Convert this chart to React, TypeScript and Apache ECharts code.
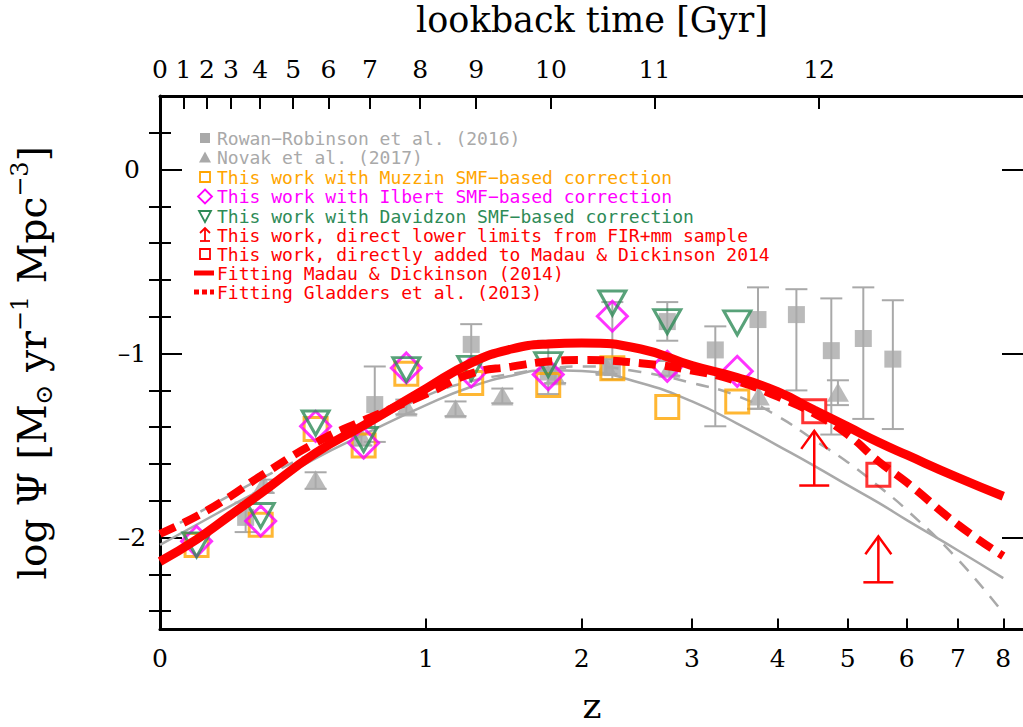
import React, { useEffect, useRef } from "react";
import * as echarts from "echarts";

// ---- axes ----
const zTicks = [0, 1, 2, 3, 4, 5, 6, 7, 8];
const zMax = 8.5;
const lookbackGyr = [0, 1, 2, 3, 4, 5, 6, 7, 8, 9, 10, 11, 12];
const lookbackZ = [0, 0.063, 0.13, 0.203, 0.298, 0.415, 0.551, 0.728, 0.97, 1.279, 1.77, 2.627, 4.569];
const yMajor = [-2, -1, 0];
const yMinor = [-2.4, -2.2, -1.8, -1.6, -1.4, -1.2, -0.8, -0.6, -0.4, -0.2, 0.2];

// ---- fitted / literature curves (log SFRD vs z) ----
const curveZ = [0, 0.1, 0.2, 0.3, 0.5, 0.7, 1.0, 1.25, 1.5, 1.75, 2.0, 2.5, 3.0, 3.5, 4.0, 4.5, 5.0, 5.5, 6.0, 7.0, 8.0];
const madauFit = [-2.13, -2.01, -1.88, -1.76, -1.54, -1.39, -1.19, -1.05, -0.975, -0.948, -0.943, -0.975, -1.065, -1.13, -1.207, -1.307, -1.397, -1.481, -1.551, -1.674, -1.775];
const gladdersFit = [-1.98, -1.884, -1.777, -1.665, -1.485, -1.363, -1.22, -1.109, -1.071, -1.043, -1.035, -1.052, -1.092, -1.15, -1.234, -1.326, -1.44, -1.585, -1.7, -1.93, -2.1];
const md14Gray = [-2.04, -1.93, -1.83, -1.74, -1.57, -1.44, -1.28, -1.18, -1.12, -1.09, -1.095, -1.16, -1.26, -1.38, -1.5, -1.61, -1.715, -1.81, -1.905, -2.07, -2.22];
const dashedGray = [-1.98, -1.87, -1.77, -1.68, -1.53, -1.4, -1.23, -1.15, -1.11, -1.08, -1.07, -1.1, -1.16, -1.23, -1.34, -1.47, -1.59, -1.72, -1.85, -2.12, -2.41];

// ---- Rowan-Robinson et al. (2016) ----
const rrZ = [0.25, 0.75, 1.25, 1.75, 2.25, 2.75, 3.25, 3.75, 4.25, 4.75, 5.25, 5.75];
const rrVal = [-1.89, -1.277, -0.95, -1.1, -1.076, -0.826, -0.98, -0.815, -0.788, -0.984, -0.918, -1.03];
const rrLo = [-1.97, -1.48, -1.06, -1.22, -1.14, -0.93, -1.395, -1.3, -1.2, -1.44, -1.355, -1.41];
const rrHi = [-1.81, -1.07, -0.84, -0.93, -0.72, -0.72, -0.852, -0.64, -0.65, -0.7, -0.64, -0.71];

// ---- Novak et al. (2017) ----
const nvZ = [0.31, 0.5, 0.69, 0.9, 1.16, 1.44, 1.8, 2.2, 2.77, 3.76, 4.85];
const nvVal = [-1.71, -1.685, -1.45, -1.29, -1.3, -1.23, -1.12, -1.07, -1.08, -1.23, -1.21];
const nvLo = [-1.757, -1.735, -1.5, -1.33, -1.34, -1.27, -1.16, -1.11, -1.12, -1.3, -1.28];
const nvHi = [-1.685, -1.645, -1.4, -1.25, -1.26, -1.19, -1.08, -1.03, -1.04, -1.17, -1.145];

// ---- this work ----
const twZ = [0.1, 0.3, 0.5, 0.7, 0.9, 1.25, 1.75, 2.25, 2.75, 3.5];
const muzzin = [-2.04, -1.93, -1.41, -1.5, -1.11, -1.16, -1.17, -1.08, -1.29, -1.26];
const ilbert = [-2.02, -1.91, -1.395, -1.486, -1.078, -1.1, -1.114, -0.797, -1.069, -1.096];
const davidzon = [-2.04, -1.88, -1.377, -1.467, -1.087, -1.08, -1.06, -0.725, -0.826, -0.833];

// direct lower limits from FIR+mm, and values added to Madau & Dickinson 2014
const limZ = [4.5, 5.5];
const limVal = [-1.717, -2.243];
const limTip = [-1.42, -1.993];
const addedZ = [4.5, 5.5];
const addedVal = [-1.313, -1.658];

const legendItems = [
  "Rowan\u2212Robinson et al. (2016)",
  "Novak et al. (2017)",
  "This work with Muzzin SMF\u2212based correction",
  "This work with Ilbert SMF\u2212based correction",
  "This work with Davidzon SMF\u2212based correction",
  "This work, direct lower limits from FIR+mm sample",
  "This work, directly added to Madau & Dickinson 2014",
  "Fitting Madau & Dickinson (2014)",
  "Fitting Gladders et al. (2013)",
];

const GRAY = "#a9a9a9";
const ORANGE = "#ffa500";
const MAGENTA = "#ff00ff";
const GREEN = "#2e8b57";
const RED = "#ff0000";
const SERIF = "DejaVu Serif";
const MONO = "DejaVu Sans Mono";

const toX = (z: number) => Math.log10(1 + z);

function errorBars(color: string, capHalf: number, width: number) {
  return (params: any, api: any) => {
    const x = api.value(0);
    const a = api.coord([x, api.value(1)]);
    const b = api.coord([x, api.value(2)]);
    const style = { stroke: color, lineWidth: width };
    return {
      type: "group",
      children: [
        { type: "line", shape: { x1: a[0], y1: a[1], x2: b[0], y2: b[1] }, style },
        { type: "line", shape: { x1: a[0] - capHalf, y1: a[1], x2: a[0] + capHalf, y2: a[1] }, style },
        { type: "line", shape: { x1: b[0] - capHalf, y1: b[1], x2: b[0] + capHalf, y2: b[1] }, style },
      ],
    };
  };
}

function lowerLimit(params: any, api: any) {
  const x = api.value(0);
  const a = api.coord([x, api.value(1)]);
  const b = api.coord([x, api.value(2)]);
  const style = { stroke: RED, lineWidth: 2.5, fill: "none" };
  return {
    type: "group",
    children: [
      { type: "line", shape: { x1: a[0], y1: a[1], x2: b[0], y2: b[1] }, style },
      { type: "line", shape: { x1: a[0] - 15, y1: a[1], x2: a[0] + 15, y2: a[1] }, style },
      {
        type: "polyline",
        shape: { points: [[b[0] - 13, b[1] + 18], [b[0], b[1]], [b[0] + 13, b[1] + 18]] },
        style,
      },
    ],
  };
}

function legendGraphics() {
  const rowY = [138, 157.5, 177, 196.5, 216, 235, 254, 273, 292];
  const colors = [GRAY, GRAY, ORANGE, MAGENTA, GREEN, RED, RED, RED, RED];
  const cx = 205;
  const els: any[] = [];
  legendItems.forEach((t, i) => {
    els.push({
      type: "text",
      x: 217,
      y: rowY[i],
      style: { text: t, fill: colors[i], font: `18px "${MONO}"`, verticalAlign: "middle" },
    });
  });
  const y = rowY;
  els.push({ type: "rect", shape: { x: cx - 5, y: y[0] - 5, width: 10, height: 10 }, style: { fill: GRAY } });
  els.push({ type: "polygon", shape: { points: [[cx - 6, y[1] + 5], [cx + 6, y[1] + 5], [cx, y[1] - 6]] }, style: { fill: GRAY } });
  els.push({ type: "rect", shape: { x: cx - 5, y: y[2] - 5, width: 10, height: 10 }, style: { fill: "none", stroke: ORANGE, lineWidth: 1.8 } });
  els.push({ type: "polygon", shape: { points: [[cx, y[3] - 7], [cx + 7, y[3]], [cx, y[3] + 7], [cx - 7, y[3]]] }, style: { fill: "none", stroke: MAGENTA, lineWidth: 1.8 } });
  els.push({ type: "polygon", shape: { points: [[cx - 6, y[4] - 5], [cx + 6, y[4] - 5], [cx, y[4] + 6]] }, style: { fill: "none", stroke: GREEN, lineWidth: 1.8 } });
  els.push({ type: "line", shape: { x1: cx, y1: y[5] + 6, x2: cx, y2: y[5] - 6 }, style: { stroke: RED, lineWidth: 1.8 } });
  els.push({ type: "line", shape: { x1: cx - 5, y1: y[5] + 6, x2: cx + 5, y2: y[5] + 6 }, style: { stroke: RED, lineWidth: 1.8 } });
  els.push({ type: "polyline", shape: { points: [[cx - 5, y[5] - 2], [cx, y[5] - 7], [cx + 5, y[5] - 2]] }, style: { stroke: RED, lineWidth: 1.8, fill: "none" } });
  els.push({ type: "rect", shape: { x: cx - 5, y: y[6] - 5, width: 10, height: 10 }, style: { fill: "none", stroke: RED, lineWidth: 1.8 } });
  els.push({ type: "line", shape: { x1: 194, y1: y[7], x2: 214, y2: y[7] }, style: { stroke: RED, lineWidth: 5 } });
  els.push({ type: "line", shape: { x1: 194, y1: y[8], x2: 214, y2: y[8] }, style: { stroke: RED, lineWidth: 5, lineDash: [5, 3] } });
  return els;
}

function buildOption(): any {
  const xMax = toX(zMax);
  const zTickX = zTicks.map(toX);
  const lbX = lookbackZ.map(toX);
  const tickStyle = { color: "#000", width: 2 };
  const axisLineStyle = { color: "#000", width: 3 };
  const labelFont = { fontFamily: SERIF, fontSize: 25, color: "#000" };

  const xBase = { type: "value", min: 0, max: xMax, splitLine: { show: false } };
  const yBase = { type: "value", min: -2.5, max: 0.4, splitLine: { show: false } };

  const lineData = (vals: number[]) => curveZ.map((z, i) => [toX(z), vals[i]]);
  const pts = (zs: number[], vals: number[]) => zs.map((z, i) => [toX(z), vals[i]]);

  return {
    animation: false,
    backgroundColor: "#fff",
    grid: { left: 160, top: 96, width: 864, height: 533.6, containLabel: false, outerBoundsMode: "none" },
    xAxis: [
      {
        ...xBase,
        position: "bottom",
        axisLine: { show: true, onZero: false, lineStyle: axisLineStyle },
        axisTick: { show: true, inside: true, length: 11, lineStyle: tickStyle, customValues: zTickX },
        axisLabel: {
          ...labelFont,
          margin: 16,
          customValues: zTickX,
          formatter: (v: number) => String(Math.round(Math.pow(10, v) - 1)),
        },
        name: "z",
        nameLocation: "middle",
        nameGap: 58,
        nameTextStyle: { fontFamily: SERIF, fontSize: 36, color: "#000" },
      },
      {
        ...xBase,
        position: "top",
        axisLine: { show: true, onZero: false, lineStyle: axisLineStyle },
        axisTick: { show: true, inside: true, length: 13, lineStyle: tickStyle, customValues: lbX },
        axisLabel: {
          ...labelFont,
          margin: 14,
          customValues: lbX,
          formatter: (v: number) => {
            let best = 0;
            lbX.forEach((x, i) => {
              if (Math.abs(x - v) < Math.abs(lbX[best] - v)) best = i;
            });
            return String(lookbackGyr[best]);
          },
        },
        name: "lookback time [Gyr]",
        nameLocation: "middle",
        nameGap: 57,
        nameTextStyle: { fontFamily: SERIF, fontSize: 35, color: "#000", lineHeight: 38 },
      },
    ],
    yAxis: [
      {
        ...yBase,
        position: "left",
        axisLine: { show: true, onZero: false, lineStyle: axisLineStyle },
        axisTick: { show: true, inside: true, length: 22, lineStyle: tickStyle, customValues: yMajor },
        axisLabel: {
          ...labelFont,
          margin: 28,
          align: "center",
          customValues: yMajor,
          formatter: (v: number) => (v < 0 ? "\u2013" + Math.abs(v) : String(v)),
        },
        name: "{t|log \u03A8 [M}{s|\u2299}{t| yr}{p|\u22121}{t| Mpc}{p|\u22123}{t|]}",
        nameLocation: "middle",
        nameRotate: 90,
        nameGap: 104,
        nameTextStyle: {
          rich: {
            t: { fontFamily: SERIF, fontSize: 39, color: "#000", lineHeight: 48 },
            s: { fontFamily: SERIF, fontSize: 24, color: "#000", verticalAlign: "bottom", lineHeight: 48 },
            p: { fontFamily: SERIF, fontSize: 24, color: "#000", verticalAlign: "top", lineHeight: 48 },
          },
        },
      },
      {
        ...yBase,
        position: "left",
        axisLine: { show: false },
        axisTick: { show: true, inside: true, length: 11, lineStyle: tickStyle, customValues: yMinor },
        axisLabel: { show: false },
      },
      {
        ...yBase,
        position: "right",
        axisLine: { show: true, onZero: false, lineStyle: axisLineStyle },
        axisTick: { show: true, inside: true, length: 22, lineStyle: tickStyle, customValues: yMajor },
        axisLabel: { show: false },
      },
      {
        ...yBase,
        position: "right",
        axisLine: { show: false },
        axisTick: { show: true, inside: true, length: 11, lineStyle: tickStyle, customValues: yMinor },
        axisLabel: { show: false },
      },
    ],
    graphic: legendGraphics(),
    series: [
      {
        type: "custom",
        name: "Rowan-Robinson errors",
        renderItem: errorBars(GRAY, 11, 2),
        encode: { x: 0, y: [1, 2] },
        data: rrZ.map((z, i) => [toX(z), rrLo[i], rrHi[i]]),
        z: 1,
      },
      {
        type: "custom",
        name: "Novak errors",
        renderItem: errorBars(GRAY, 11, 2),
        encode: { x: 0, y: [1, 2] },
        data: nvZ.map((z, i) => [toX(z), nvLo[i], nvHi[i]]),
        z: 1,
      },
      {
        type: "scatter",
        name: "Rowan-Robinson et al. (2016)",
        symbol: "rect",
        symbolSize: 17,
        itemStyle: { color: GRAY },
        data: pts(rrZ, rrVal),
        z: 2,
      },
      {
        type: "scatter",
        name: "Novak et al. (2017)",
        symbol: "triangle",
        symbolSize: [22, 19],
        itemStyle: { color: GRAY },
        data: pts(nvZ, nvVal),
        z: 2,
      },
      {
        type: "line",
        name: "MD14",
        data: lineData(md14Gray),
        smooth: true,
        showSymbol: false,
        lineStyle: { color: GRAY, width: 2.5 },
        z: 3,
      },
      {
        type: "line",
        name: "dashed reference",
        data: lineData(dashedGray),
        smooth: true,
        showSymbol: false,
        lineStyle: { color: GRAY, width: 2.5, type: [13, 10] },
        z: 3,
      },
      {
        type: "scatter",
        name: "Muzzin",
        symbol: "rect",
        symbolSize: 23,
        itemStyle: { color: "rgba(0,0,0,0)", borderColor: ORANGE, borderWidth: 3 },
        data: pts(twZ, muzzin),
        z: 4,
      },
      {
        type: "scatter",
        name: "Ilbert",
        symbol: "diamond",
        symbolSize: 30,
        itemStyle: { color: "rgba(0,0,0,0)", borderColor: MAGENTA, borderWidth: 3 },
        data: pts(twZ, ilbert),
        z: 5,
      },
      {
        type: "scatter",
        name: "Davidzon",
        symbol: "triangle",
        symbolRotate: 180,
        symbolSize: [27, 24],
        itemStyle: { color: "rgba(0,0,0,0)", borderColor: GREEN, borderWidth: 3 },
        data: pts(twZ, davidzon),
        z: 6,
      },
      {
        type: "line",
        name: "Fitting Madau & Dickinson (2014)",
        data: lineData(madauFit),
        smooth: true,
        showSymbol: false,
        lineStyle: { color: RED, width: 9 },
        z: 7,
      },
      {
        type: "line",
        name: "Fitting Gladders et al. (2013)",
        data: lineData(gladdersFit),
        smooth: true,
        showSymbol: false,
        lineStyle: { color: RED, width: 8, type: [17, 9] },
        z: 7,
      },
      {
        type: "scatter",
        name: "added to MD14",
        symbol: "rect",
        symbolSize: 23,
        itemStyle: { color: "rgba(0,0,0,0)", borderColor: RED, borderWidth: 3 },
        data: pts(addedZ, addedVal),
        z: 8,
      },
      {
        type: "custom",
        name: "lower limits",
        renderItem: lowerLimit,
        encode: { x: 0, y: [1, 2] },
        data: limZ.map((z, i) => [toX(z), limVal[i], limTip[i]]),
        z: 8,
      },
    ],
  };
}

export default function App() {
  const ref = useRef<HTMLDivElement>(null);
  useEffect(() => {
    if (!ref.current) return;
    const chart = echarts.init(ref.current, undefined, { renderer: "svg" });
    chart.setOption(buildOption());
    return () => chart.dispose();
  }, []);
  return (
    <div
      ref={ref}
      style={{ position: "fixed", left: 0, top: 0, width: 1023, height: 727, background: "#fff" }}
    />
  );
}
